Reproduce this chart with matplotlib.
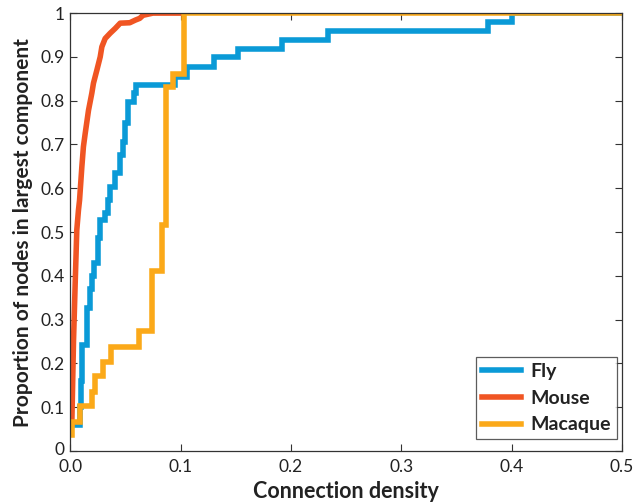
import matplotlib
matplotlib.use("Agg")
import matplotlib.pyplot as plt
import matplotlib.transforms as mtransforms

# ---- data ----
fly_x = [0.004, 0.009, 0.010, 0.011, 0.015, 0.018, 0.020, 0.022, 0.0254, 0.0272,
         0.0317, 0.0340, 0.0362, 0.0408, 0.0447, 0.048, 0.050, 0.052, 0.0574, 0.060,
         0.095, 0.106, 0.130, 0.152, 0.192, 0.234, 0.379, 0.400, 0.5]
fly_y = [0.06, 0.10, 0.16, 0.242, 0.326, 0.37, 0.40, 0.43, 0.486, 0.527,
         0.543, 0.573, 0.603, 0.635, 0.676, 0.706, 0.75, 0.797, 0.817, 0.836,
         0.853, 0.877, 0.899, 0.919, 0.938, 0.960, 0.980, 1.0, 1.0]

mouse_x = [0.0, 0.0015, 0.003, 0.0045, 0.006, 0.0075, 0.0085, 0.0106, 0.012, 0.0136,
           0.0166, 0.0196, 0.0211, 0.0242, 0.0272, 0.0287, 0.0317, 0.0362, 0.0408,
           0.0453, 0.054, 0.059, 0.063, 0.066, 0.075, 0.100]
mouse_y = [0.04, 0.064, 0.25, 0.38, 0.505, 0.55, 0.573, 0.65, 0.695, 0.725,
           0.778, 0.817, 0.84, 0.87, 0.90, 0.923, 0.942, 0.954, 0.965,
           0.977, 0.978, 0.984, 0.988, 0.995, 1.0, 1.0]

mac_x = [0.0, 0.0015, 0.009, 0.0196, 0.0227, 0.030, 0.037, 0.062, 0.074, 0.083,
         0.087, 0.0936, 0.103, 0.5]
mac_y = [0.037, 0.067, 0.103, 0.135, 0.171, 0.204, 0.238, 0.274, 0.412, 0.516,
         0.831, 0.861, 1.0, 1.0]

series_names = ["Fly", "Mouse", "Macaque"]
colors = ["#0A9AD7", "#F05523", "#FBA919"]

x_ticks = [0.0, 0.1, 0.2, 0.3, 0.4, 0.5]
x_ticklabels = ["0.0", "0.1", "0.2", "0.3", "0.4", "0.5"]
y_ticks = [0, 0.1, 0.2, 0.3, 0.4, 0.5, 0.6, 0.7, 0.8, 0.9, 1.0]
y_ticklabels = ["0", "0.1", "0.2", "0.3", "0.4", "0.5", "0.6", "0.7", "0.8", "0.9", "1"]

plt.rcParams['font.family'] = ['Lato', 'DejaVu Sans']

fig = plt.figure(figsize=(6.38, 5.04), dpi=100)
ax = fig.add_axes([0.110, 0.105, 0.865, 0.869])

lw = 4.0
ax.plot(fly_x, fly_y, color=colors[0], lw=lw, drawstyle='steps-post', label=series_names[0],
        solid_joinstyle='miter')
ax.plot(mouse_x, mouse_y, color=colors[1], lw=lw, label=series_names[1])
ax.plot(mac_x, mac_y, color=colors[2], lw=lw, drawstyle='steps-post', label=series_names[2],
        solid_joinstyle='miter')

ax.set_xlim(0, 0.5)
ax.set_ylim(0, 1)
ax.set_xticks(x_ticks)
ax.set_xticklabels(x_ticklabels)
ax.set_yticks(y_ticks)
ax.set_yticklabels(y_ticklabels)
ax.tick_params(direction='in', length=5, width=0.8, colors='#333333', labelcolor='#222222',
               labelsize=12.5, top=True, right=True)
ax.tick_params(axis='x', pad=6)
ax.tick_params(axis='y', pad=4)
for s in ax.spines.values():
    s.set_color('#333333')
    s.set_linewidth(0.9)

# nudge the y "0" label up slightly so it does not collide with x "0.0"
lbl0 = ax.get_yticklabels()[0]
lbl0.set_transform(lbl0.get_transform() +
                   mtransforms.ScaledTranslation(0, 2 / 72, fig.dpi_scale_trans))

ax.set_xlabel("Connection density", fontsize=15.5, fontweight='bold', color='#222222', labelpad=4)
ax.set_ylabel("Proportion of nodes in largest component", fontsize=15, fontweight='bold',
              color='#222222', labelpad=5)

leg = ax.legend(loc='lower right', bbox_to_anchor=(0.991, 0.027), borderaxespad=0,
                frameon=True, fancybox=False, edgecolor='#333333',
                handlelength=2.0, handletextpad=0.5, borderpad=0.3,
                prop={'weight': 'bold', 'size': 14})
leg.get_frame().set_linewidth(0.9)
for t in leg.get_texts():
    t.set_color('#222222')

fig.savefig("out.png", dpi=100)
